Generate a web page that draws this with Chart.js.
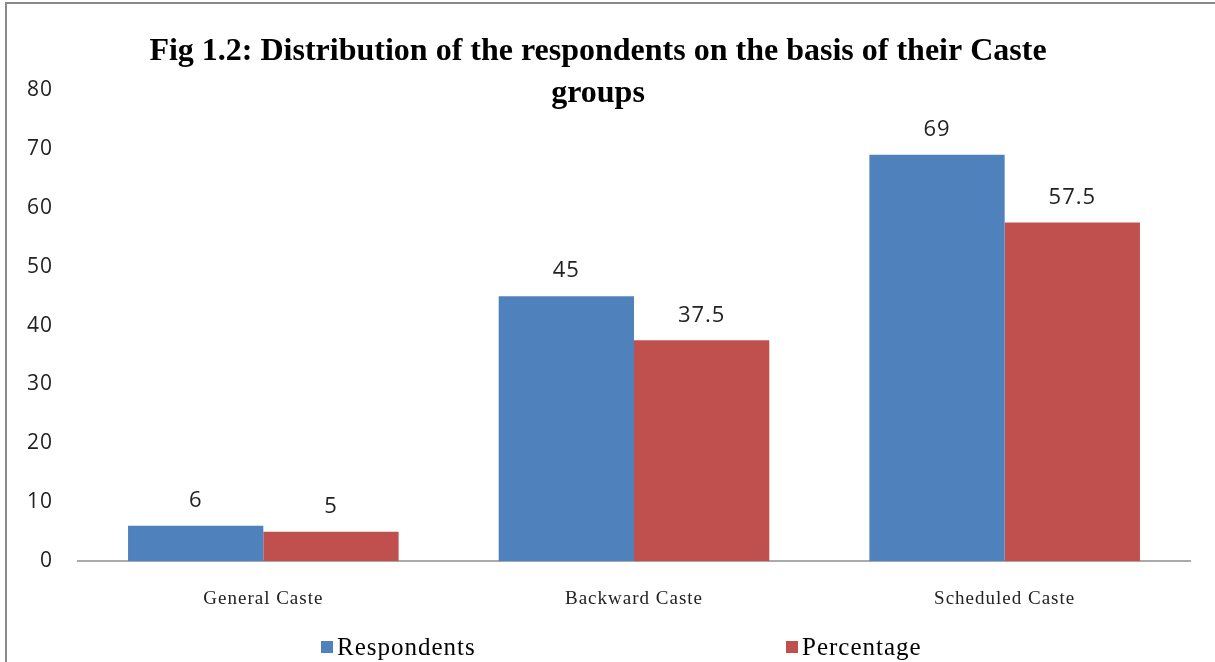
<!DOCTYPE html>
<html>
<head>
<meta charset="utf-8">
<script src="https://cdn.jsdelivr.net/npm/chart.js@4.4.1/dist/chart.umd.min.js"></script>
<style>
  html, body { margin: 0; padding: 0; background: #fff; overflow: hidden; }
  #wrap { position: relative; width: 1215px; height: 662px; }
  #frame { position: absolute; left: 5px; top: 2px; width: 1300px; height: 700px;
           border-left: 2px solid #8a8a8a; border-top: 2px solid #8a8a8a; pointer-events: none; }
  canvas { position: absolute; left: 0; top: 0; }
</style>
</head>
<body>
<div id="wrap">
  <canvas id="chart" width="1215" height="662"></canvas>
  <div id="frame"></div>
</div>
<script>
// Chart data
const categories = ['General Caste', 'Backward Caste', 'Scheduled Caste'];
const respondents = [6, 45, 69];
const percentage = [5, 37.5, 57.5];
const seriesNames = ['Respondents', 'Percentage'];
const titleLines = ['Fig 1.2: Distribution of the respondents on the basis of their Caste', 'groups'];

const BLUE = '#4F81BD';
const RED = '#C0504D';

// the original text is set a little loose; canvas resets wipe this, so set it before each layout
const spacingPlugin = {
  id: 'looseText',
  beforeUpdate(chart) { chart.ctx.letterSpacing = '1px'; },
  beforeDraw(chart) { chart.ctx.letterSpacing = '1px'; }
};

// Title drawn over the plot, like the original
const titlePlugin = {
  id: 'figTitle',
  afterDraw(chart) {
    const ctx = chart.ctx;
    ctx.save();
    ctx.letterSpacing = '0px';
    ctx.fillStyle = '#000';
    ctx.font = 'bold 32px "Liberation Serif", "Times New Roman", serif';
    ctx.textAlign = 'center';
    ctx.textBaseline = 'middle';
    ctx.fillText(titleLines[0], 598, 52);
    ctx.fillText(titleLines[1], 598, 94);
    ctx.restore();
  }
};

// Value labels above each bar
const valuePlugin = {
  id: 'values',
  afterDatasetsDraw(chart) {
    const ctx = chart.ctx;
    ctx.save();
    ctx.fillStyle = '#222';
    ctx.font = '22px "Open Sans", sans-serif';
    ctx.textAlign = 'center';
    ctx.textBaseline = 'middle';
    chart.data.datasets.forEach((ds, di) => {
      chart.getDatasetMeta(di).data.forEach((bar, i) => {
        ctx.fillText(String(ds.data[i]), bar.x, bar.y - 25);
      });
    });
    ctx.restore();
  }
};

// Legend spread out at the bottom
const legendPlugin = {
  id: 'spreadLegend',
  afterDraw(chart) {
    const ctx = chart.ctx;
    const xs = [321, 786];
    const y = 647;
    ctx.save();
    ctx.font = '25px "Liberation Serif", "Times New Roman", serif';
    ctx.textBaseline = 'middle';
    ctx.textAlign = 'left';
    chart.data.datasets.forEach((ds, i) => {
      ctx.fillStyle = ds.backgroundColor;
      ctx.fillRect(xs[i], y - 6, 12, 12);
      ctx.fillStyle = '#000';
      ctx.fillText(ds.label, xs[i] + 16, y + 1);
    });
    ctx.restore();
  }
};

new Chart(document.getElementById('chart'), {
  type: 'bar',
  data: {
    labels: categories,
    datasets: [
      { label: seriesNames[0], data: respondents, backgroundColor: BLUE },
      { label: seriesNames[1], data: percentage, backgroundColor: RED }
    ]
  },
  options: {
    responsive: false,
    animation: false,
    layout: { padding: { left: 0, right: 25, top: 90, bottom: 26 } },
    datasets: { bar: { categoryPercentage: 0.73, barPercentage: 1.0 } },
    plugins: {
      legend: { display: false },
      title: { display: false },
      tooltip: { enabled: false }
    },
    scales: {
      x: {
        grid: { display: false, drawTicks: false },
        border: { display: true, color: '#aaaaaa', width: 2 },
        ticks: {
          color: '#222',
          padding: 26,
          font: { family: '"Liberation Serif", "Times New Roman", serif', size: 19 }
        }
      },
      y: {
        min: 0,
        max: 80,
        afterFit(scale) { scale.width = 78; },
        grid: { display: false, drawTicks: false },
        border: { display: false },
        ticks: {
          stepSize: 10,
          color: '#222',
          padding: 25,
          font: { family: '"Open Sans", sans-serif', size: 21 }
        }
      }
    }
  },
  plugins: [spacingPlugin, titlePlugin, valuePlugin, legendPlugin]
});
</script>
</body>
</html>
